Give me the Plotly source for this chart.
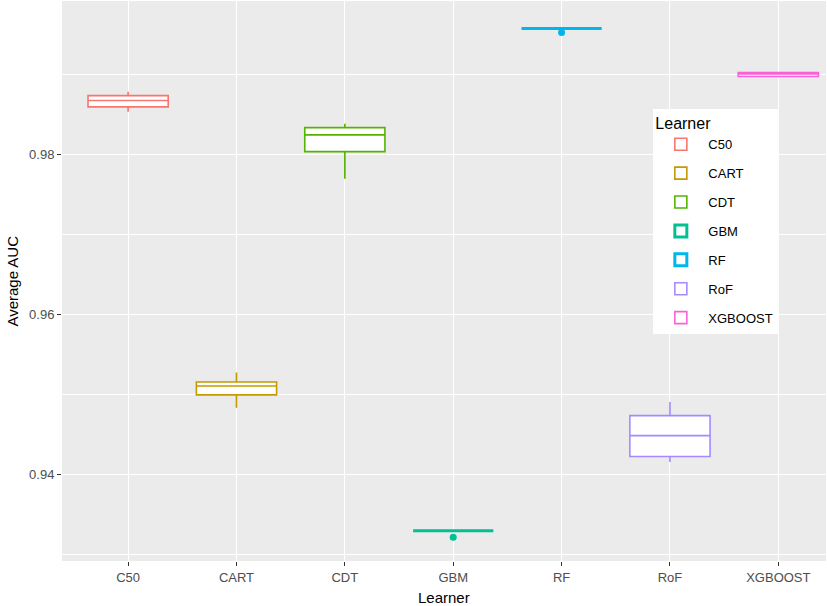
import plotly.graph_objects as go

# Learners and their box statistics (Average AUC)
learners = ['C50', 'CART', 'CDT', 'GBM', 'RF', 'RoF', 'XGBOOST']
colors = ['#F8766D', '#C49A00', '#53B400', '#00C094', '#00B6EB', '#A58AFF', '#FB61D7']

lower = [0.9853, 0.9483, 0.9769, 0.9329, 0.9957, 0.9415, 0.9897]
q1 = [0.9859, 0.9499, 0.9803, 0.9329, 0.9957, 0.9422, 0.9897]
median = [0.9867, 0.9510, 0.9824, 0.9329, 0.9957, 0.9448, 0.9900]
q3 = [0.9873, 0.9515, 0.9833, 0.9329, 0.9957, 0.9473, 0.9902]
upper = [0.9878, 0.9527, 0.9838, 0.9329, 0.9957, 0.9490, 0.9903]

# outliers
out_x = ['GBM', 'RF']
out_y = [0.9321, 0.9952]
out_colors = ['#00C094', '#00B6EB']

fig = go.Figure()

for i, name in enumerate(learners):
    # collapsed boxes look heavier in the original (edges + median overlap)
    lw = 3 if q3[i] - q1[i] < 1e-6 else 1.6
    fig.add_trace(go.Box(
        x=[name],
        q1=[q1[i]], median=[median[i]], q3=[q3[i]],
        lowerfence=[lower[i]], upperfence=[upper[i]],
        name=name,
        legendgroup=name,
        width=0.74,
        whiskerwidth=0,
        fillcolor='white',
        line=dict(color=colors[i], width=lw),
        boxpoints=False,
        hoverinfo='y',
    ))

for xv, yv, c in zip(out_x, out_y, out_colors):
    fig.add_trace(go.Scatter(
        x=[xv], y=[yv], mode='markers',
        marker=dict(color=c, size=7),
        showlegend=False,
    ))

fig.update_layout(
    width=827, height=606,
    margin=dict(l=62, r=1, t=1, b=45),
    paper_bgcolor='white',
    plot_bgcolor='#EBEBEB',
    font=dict(family='Liberation Sans, Arial, sans-serif', size=13, color='black'),
    legend=dict(
        title=dict(text='Learner', font=dict(size=16)),
        x=0.774, y=0.808, xanchor='left', yanchor='top',
        bgcolor='white',
        font=dict(size=13),
        tracegroupgap=9,
        itemwidth=45,
    ),
    xaxis=dict(
        type='category',
        categoryorder='array', categoryarray=learners,
        range=[-0.61, 6.44],
        showgrid=True, gridcolor='white', gridwidth=1.2,
        ticks='outside', ticklen=4, tickcolor='#333333',
        tickfont=dict(color='#4D4D4D', size=13),
        zeroline=False,
        automargin=False,
    ),
    yaxis=dict(
        range=[0.92913, 0.99913],
        tickvals=[0.94, 0.96, 0.98],
        ticktext=['0.94', '0.96', '0.98'],
        showgrid=True, gridcolor='white', gridwidth=1.2,
        minor=dict(tickvals=[0.93, 0.95, 0.97, 0.99], showgrid=True,
                   gridcolor='white', gridwidth=0.6),
        ticks='outside', ticklen=4, tickcolor='#333333',
        tickfont=dict(color='#4D4D4D', size=13),
        zeroline=False,
        automargin=False,
    ),
    annotations=[
        dict(text='Learner', xref='paper', yref='paper', x=0.5, y=-0.066,
             xanchor='center', yanchor='middle', showarrow=False,
             font=dict(size=15)),
        dict(text='Average AUC', xref='paper', yref='paper', x=-0.066, y=0.5,
             xanchor='center', yanchor='middle', showarrow=False, textangle=-90,
             font=dict(size=15)),
    ],
)

# drop the default 8px page margin so the figure sits at the window corner
fig.write_html("out.html", config={'displayModeBar': False},
               post_script="document.body.style.margin='0';")
